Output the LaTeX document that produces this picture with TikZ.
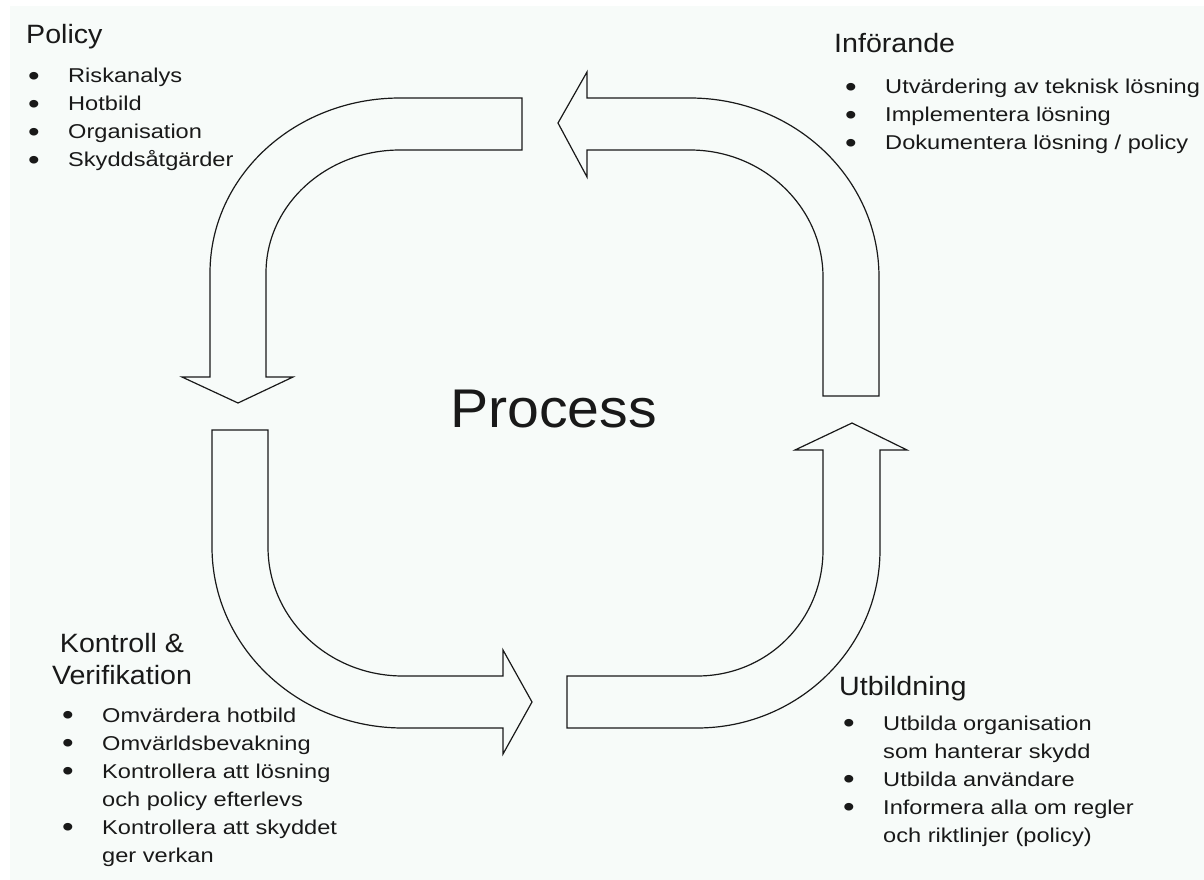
\documentclass[tikz,border=0pt]{standalone}
\usepackage{fontspec}
\setmainfont{Liberation Sans}
\newfontfamily\headfont{Liberation Sans}[FakeStretch=1.08]
\newfontfamily\itemfont{Liberation Sans}[FakeStretch=1.18]
\newfontfamily\bigfont{Liberation Sans}[FakeStretch=1.05]
\usetikzlibrary{positioning}
\definecolor{paper}{RGB}{247,251,249}
\definecolor{ink}{RGB}{25,25,25}
\newcommand{\bul}{\makebox[40pt][l]{\raisebox{-2.6pt}{\fontsize{28}{28}\selectfont\textbullet}}}

\tikzset{
  cyclearrow/.style={draw=ink, line width=1.2pt, fill=paper, line join=miter},
  heading/.style={font=\headfont\fontsize{26.5}{32}\selectfont, text=ink, inner sep=0pt},
  itemlist/.style={font=\itemfont\fontsize{20}{28}\selectfont, text=ink, inner sep=0pt, anchor=base west},
}

\begin{document}
\begin{tikzpicture}[x=1pt, y=-1pt]
    \useasboundingbox (0,0) rectangle (1204,880);
    \fill[white] (0,0) rectangle (1204,880);
    \fill[paper] (10,6) rectangle (1204,880);

    % Policy -> Kontroll
    \draw[cyclearrow] (522,98) -- (400,98)
        .. controls (295,98) and (210,176) .. (210,273) -- (210,377)
        -- (182,377) -- (238,403) -- (293,377) -- (266,377) -- (266,273)
        .. controls (266,205) and (326,150) .. (400,150) -- (522,150) -- cycle;
    % Kontroll -> Utbildning
    \draw[cyclearrow] (212,430) -- (212,547)
        .. controls (212,647) and (298,728) .. (403,728) -- (503,728)
        -- (503,754) -- (532,702) -- (503,650) -- (503,676) -- (403,676)
        .. controls (328,676) and (268,618) .. (268,547) -- (268,430) -- cycle;
    % Utbildning -> Inforande
    \draw[cyclearrow] (567,676) -- (697,676)
        .. controls (768,676) and (823,620) .. (823,550) -- (823,450)
        -- (795,450) -- (852,423) -- (907,450) -- (880,450) -- (880,550)
        .. controls (880,648) and (798,728) .. (697,728) -- (567,728) -- cycle;
    % Inforande -> Policy
    \draw[cyclearrow] (879,396) -- (879,277)
        .. controls (879,178) and (794,98) .. (690,98) -- (587,98)
        -- (587,72) -- (558,123) -- (587,177) -- (587,150) -- (690,150)
        .. controls (763,150) and (823,207) .. (823,277) -- (823,396) -- cycle;

    \node[font=\bigfont\fontsize{54.5}{60}\selectfont, text=ink, inner sep=0pt, anchor=base west] (process) at (450,427) {Process};

    \node[heading, anchor=base west] (policy) at (26,44) {Policy};
    \node[itemlist] (policyitems) at (28,83) {\begin{tabular}[t]{@{}l@{}l@{}}
        \bul & Riskanalys\\
        \bul & Hotbild\\
        \bul & Organisation\\
        \bul & Skyddsåtgärder
      \end{tabular}};

    \node[heading, anchor=base west] (inforande) at (834,53) {Införande};
    \node[itemlist] (inforandeitems) at (845,94) {\begin{tabular}[t]{@{}l@{}l@{}}
        \bul & Utvärdering av teknisk lösning\\
        \bul & Implementera lösning\\
        \bul & Dokumentera lösning / policy
      \end{tabular}};

    \node[heading, anchor=base, align=center] (kontroll) at (122,684) {Kontroll \&\\Verifikation};
    \node[itemlist] (kontrollitems) at (62,722) {\begin{tabular}[t]{@{}l@{}l@{}}
        \bul & Omvärdera hotbild\\
        \bul & Omvärldsbevakning\\
        \bul & Kontrollera att lösning\\
             & och policy efterlevs\\
        \bul & Kontrollera att skyddet\\
             & ger verkan
      \end{tabular}};

    \node[heading, anchor=base west] (utbildning) at (839,695) {Utbildning};
    \node[itemlist] (utbildningitems) at (843,730) {\begin{tabular}[t]{@{}l@{}l@{}}
        \bul & Utbilda organisation\\
             & som hanterar skydd\\
        \bul & Utbilda användare\\
        \bul & Informera alla om regler\\
             & och riktlinjer (policy)
      \end{tabular}};
\end{tikzpicture}
\end{document}
